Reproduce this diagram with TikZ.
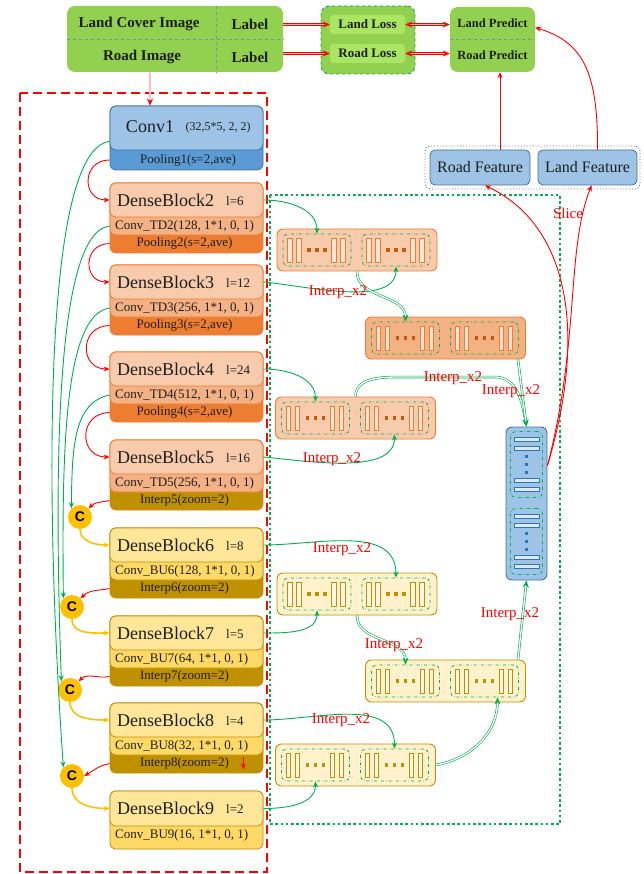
\documentclass[tikz,border=0pt]{standalone}
\usepackage{fontspec}
\setmainfont{Liberation Serif}
\newfontfamily\csans{Liberation Sans}
\usetikzlibrary{arrows.meta, positioning, calc}
\definecolor{txt}{RGB}{30,30,30}
\definecolor{grn}{RGB}{146,208,80}
\definecolor{grnL}{RGB}{170,230,100}
\definecolor{grnE}{RGB}{0,176,80}
\definecolor{sepc}{RGB}{110,150,180}
\definecolor{blL}{RGB}{157,195,230}
\definecolor{blD}{RGB}{91,155,213}
\definecolor{blE}{RGB}{65,113,156}
\definecolor{blW}{RGB}{222,235,247}
\definecolor{blK}{RGB}{46,117,182}
\definecolor{orL}{RGB}{248,203,173}
\definecolor{orM}{RGB}{244,177,131}
\definecolor{orD}{RGB}{237,125,49}
\definecolor{orE}{RGB}{237,125,49}
\definecolor{orW}{RGB}{251,229,214}
\definecolor{orK}{RGB}{197,90,17}
\definecolor{gdL}{RGB}{255,230,153}
\definecolor{gdM}{RGB}{255,217,102}
\definecolor{gdD}{RGB}{191,144,0}
\definecolor{gdE}{RGB}{191,144,0}
\definecolor{gdW}{RGB}{255,242,204}
\definecolor{gdK}{RGB}{191,144,0}
\definecolor{catc}{RGB}{255,192,0}

\newcommand\fsz[1]{\fontsize{#1}{#1}\selectfont}

% encoder block: name, top y, title, l, conv text, bottom text, scheme, bottom colour
\newcommand\encblk[8]{%
  \node[blk, fill=#8, draw=#7E, minimum height=70pt] (#1) at (186.5,#2+35) {};
  \node[blk, fill=#7M, draw=#7E, minimum height=52pt, anchor=north] (#1c) at (#1.north) {};
  \node[blk, fill=#7L, draw=#7E, minimum height=34pt, anchor=north] (#1t) at (#1.north) {};
  \node[ttl, anchor=west] (#1n) at ($(#1.north)+(-69.5,18)$) {#3};
  \node[par, anchor=west] (#1l) at ($(#1.north)+(39.5,18)$) {#4};
  \node[sub, anchor=west] (#1cn) at ($(#1.north)+(-71.5,43.5)$) {#5};
  \node[sub] (#1p) at ($(#1.north)+(-2,61)$) {#6};
}

% decoder block: name, centre, fill, line, bar fill, dot colour
\newcommand\decblk[6]{%
  \node[decbox, fill=#3, draw=#4] (#1) at (#2) {};
  \foreach \k/\dx in {1/-40,2/39}{
    \node[subbox] (#1-\k) at ($(#1)+(\dx,0)$) {};
    \foreach \bx in {-27,-18,17,26}
      \draw[fill=#5, draw=#4, line width=0.7pt] ($(#1-\k)+(\bx-2.2,-12)$) rectangle ++(4.4,24);
    \foreach \bx in {-8,0,8}
      \fill[#6] ($(#1-\k)+(\bx-1.7,-1.7)$) rectangle ++(3.4,3.4);
  }
}

\begin{document}
\begin{tikzpicture}[x=1pt, y=-1pt,
    blk/.style={rectangle, rounded corners=6pt, minimum width=153pt, line width=0.8pt, inner sep=0pt},
    ttl/.style={font=\fsz{18}, text=txt, inner sep=0pt},
    par/.style={font=\fsz{13}, text=txt, inner sep=0pt},
    sub/.style={font=\fsz{13}, text=txt, inner sep=0pt},
    topl/.style={font=\fsz{15}\bfseries, text=txt, inner sep=0pt},
    decbox/.style={rectangle, rounded corners=6pt, minimum width=160pt, minimum height=42pt, line width=0.9pt, inner sep=0pt},
    subbox/.style={rectangle, draw=grnE, dash dot, line width=0.8pt, rounded corners=5pt, minimum width=68pt, minimum height=32pt},
    feat/.style={rectangle, rounded corners=5pt, fill=blL, draw=blE, line width=0.8pt, minimum height=35pt, font=\fsz{16}, text=txt},
    cat/.style={circle, fill=catc, minimum size=24pt, inner sep=0pt, font=\csans\bfseries\fsz{14}},
    lbl/.style={font=\fsz{15}, text=red, inner sep=0pt},
    redarr/.style={-{Stealth[length=6pt,width=5pt]}, red, line width=0.9pt},
    reddbl/.style={-{Stealth[length=7pt,width=6pt]}, draw=red, double=red!25, double distance=1.3pt, line width=0.6pt},
    grarr/.style={-{Stealth[length=6pt,width=5pt]}, draw=grnE, line width=0.9pt},
    grdbl/.style={-{Stealth[length=7pt,width=6pt]}, draw=grnE, double=white, double distance=1.3pt, line width=0.6pt},
    goldarr/.style={-{Stealth[length=6pt,width=5pt]}, draw=catc, line width=1.6pt},
    sepline/.style={draw=sepc, dashed, line width=0.8pt}
  ]
  \useasboundingbox (0,0) rectangle (644,874);

  % frames
  \draw[red, line width=2.4pt, dash pattern=on 9pt off 5pt] (20,93) rectangle (267,872);
  \draw[grnE, line width=2.6pt, dash pattern=on 2.6pt off 2.6pt] (270,195) rectangle (560,824);

  % inputs, losses, predictions
  \node[rectangle, rounded corners=8pt, fill=grn, minimum width=216pt, minimum height=66pt] (inp) at (175,39) {};
  \draw[sepline] (inp.west) -- (inp.east);
  \draw[sepline] ($(inp.north)+(41,0)$) -- ($(inp.south)+(41,0)$);
  \node[topl] (img1) at (139,24) {Land Cover Image};
  \node[topl] (lab1) at (250,24) {Label};
  \node[topl] (img2) at (142,57) {Road Image};
  \node[topl] (lab2) at (250,57) {Label};

  \node[rectangle, rounded corners=8pt, fill=grn, draw=grnE, dashed, line width=0.9pt, minimum width=94pt, minimum height=68pt] (loss) at (368,40) {};
  \node[rectangle, rounded corners=3pt, fill=grnL, minimum width=75pt, minimum height=19pt, font=\fsz{13}\bfseries, text=txt] (lloss) at (367.5,24.5) {Land Loss};
  \node[rectangle, rounded corners=3pt, fill=grnL, minimum width=75pt, minimum height=19pt, font=\fsz{13}\bfseries, text=txt] (rloss) at (367.5,53.5) {Road Loss};

  \node[rectangle, rounded corners=8pt, fill=grn, minimum width=85pt, minimum height=65pt] (pred) at (492.5,39.5) {};
  \draw[sepline] (pred.west) -- (pred.east);
  \node[font=\fsz{12.5}\bfseries, text=txt, inner sep=0pt] (lpred) at (492.5,23) {Land Predict};
  \node[font=\fsz{12.5}\bfseries, text=txt, inner sep=0pt] (rpred) at (492.5,55) {Road Predict};

  \draw[reddbl] (inp.east |- lloss) -- (lloss.west);
  \draw[reddbl] (inp.east |- rloss) -- (rloss.west);
  \draw[reddbl, {Stealth[length=7pt,width=6pt]}-{Stealth[length=7pt,width=6pt]}] (lloss.east) -- (lloss.east -| pred.west);
  \draw[reddbl, {Stealth[length=7pt,width=6pt]}-{Stealth[length=7pt,width=6pt]}] (rloss.east) -- (rloss.east -| pred.west);

  % features
  \node[rectangle, rounded corners=5pt, draw=blE, dotted, line width=0.9pt, minimum width=215pt, minimum height=43pt] (feats) at (532.5,167.5) {};
  \node[feat, minimum width=100pt] (rfeat) at (480,167.5) {Road Feature};
  \node[feat, minimum width=99pt] (lfeat) at (587.5,167.5) {Land Feature};
  \draw[redarr] ($(rfeat.north)+(20,0)$) -- ($(pred.south)+(7.5,0)$);
  \draw[redarr] ($(lfeat.north)+(10,0)$) .. controls (598,70) and (582,42) .. ($(pred.east)+(0,-12)$);

  % encoder
  \node[blk, fill=blD, draw=blE, minimum height=64pt] (c1) at (186.5,138) {};
  \node[blk, fill=blL, draw=blE, minimum height=44pt, anchor=north] (c1t) at (c1.north) {};
  \node[ttl] (c1n) at (150,127) {Conv1};
  \node[font=\fsz{12}, text=txt, inner sep=0pt] (c1l) at (218,128) {(32,5*5, 2, 2)};
  \node[sub] (c1p) at (188,160) {Pooling1(s=2,ave)};
  \draw[reddbl] (inp.south -| c1n) -- (c1n |- c1.north);

  \encblk{db2}{183}{DenseBlock2}{l=6}{Conv\_TD2(128, 1*1, 0, 1)}{Pooling2(s=2,ave)}{or}{orD}
  \encblk{db3}{265}{DenseBlock3}{l=12}{Conv\_TD3(256, 1*1, 0, 1)}{Pooling3(s=2,ave)}{or}{orD}
  \encblk{db4}{352}{DenseBlock4}{l=24}{Conv\_TD4(512, 1*1, 0, 1)}{Pooling4(s=2,ave)}{or}{orD}
  \encblk{db5}{440}{DenseBlock5}{l=16}{Conv\_TD5(256, 1*1, 0, 1)}{Interp5(zoom=2)}{or}{gdD}
  \encblk{db6}{528}{DenseBlock6}{l=8}{Conv\_BU6(128, 1*1, 0, 1)}{Interp6(zoom=2)}{gd}{gdD}
  \encblk{db7}{616}{DenseBlock7}{l=5}{Conv\_BU7(64, 1*1, 0, 1)}{Interp7(zoom=2)}{gd}{gdD}
  \encblk{db8}{703}{DenseBlock8}{l=4}{Conv\_BU8(32, 1*1, 0, 1)}{Interp8(zoom=2)}{gd}{gdD}
  \node[blk, fill=gdM, draw=gdE, minimum height=58pt] (db9) at (186.5,820) {};
  \node[blk, fill=gdL, draw=gdE, minimum height=35pt, anchor=north] (db9t) at (db9.north) {};
  \node[ttl, anchor=west] (db9n) at ($(db9.north)+(-69.5,18)$) {DenseBlock9};
  \node[par, anchor=west] (db9l) at ($(db9.north)+(39.5,18)$) {l=2};
  \node[sub, anchor=west] (db9cn) at ($(db9.north)+(-71.5,45)$) {Conv\_BU9(16, 1*1, 0, 1)};
  \draw[redarr] ($(db8.south east)+(-20,-16)$) -- ++(0,12);

  % concat
  \node[cat] (cc1) at (80,517) {C};
  \node[cat] (cc2) at (72,607) {C};
  \node[cat] (cc3) at (70,690) {C};
  \node[cat] (cc4) at (72,776) {C};

  \draw[redarr] (c1.west |- c1p) to[out=180, in=180, looseness=1.8] (db2t.west);
  \draw[redarr] (db2.west |- db2p) to[out=180, in=180, looseness=1.8] (db3t.west);
  \draw[redarr] (db3.west |- db3p) to[out=180, in=180, looseness=1.8] (db4t.west);
  \draw[redarr] (db4.west |- db4p) to[out=180, in=180, looseness=1.8] (db5t.west);
  \draw[redarr] (db5.west |- db5p) to[out=190, in=45] (cc1.north east);
  \draw[redarr] (db6.west |- db6p) to[out=190, in=45] (cc2.north east);
  \draw[redarr] (db7.west |- db7p) to[out=190, in=45] (cc3.north east);
  \draw[redarr] (db8.west |- db8p) to[out=190, in=30] (cc4.east);

  \draw[goldarr] (cc1.south) to[out=-90, in=180] (db6t.west);
  \draw[goldarr] (cc2.south) to[out=-90, in=180] (db7t.west);
  \draw[goldarr] (cc3.south) to[out=-90, in=180] (db8t.west);
  \draw[goldarr] (cc4.south) to[out=-90, in=180] (db9t.west);

  \draw[grarr] ($(c1t.south west)+(0,-9)$) .. controls (40,150) and (46,520) .. (cc4.north west);
  \draw[grarr] (db2.west |- db2cn) .. controls (55,232) and (54,470) .. (cc3.north west);
  \draw[grarr] (db3.west |- db3cn) .. controls (63,314) and (62,460) .. (cc2.north west);
  \draw[grarr] (db4.west |- db4cn) .. controls (73,402) and (72,450) .. (cc1.north west);

  % decoder
  \decblk{ba}{357,250}{orL}{orE}{orW}{orK}
  \decblk{bb}{445.5,338}{orM}{orE}{orW}{orK}
  \decblk{bc}{355.5,418}{orL}{orE}{orW}{orK}
  \decblk{bd}{357,594}{gdW}{gdE}{gdW!50!white}{gdK}
  \decblk{be}{445.5,681}{gdW}{gdE}{gdW!50!white}{gdK}
  \decblk{bf}{355.5,765}{gdW}{gdE}{gdW!50!white}{gdK}

  \node[rectangle, rounded corners=6pt, fill=blL, draw=blE, line width=0.9pt, minimum width=41pt, minimum height=153pt] (vb) at (526.5,503.5) {};
  \foreach \k/\dy in {1/-39,2/38}{
    \node[subbox, minimum width=32pt, minimum height=66pt] (vb-\k) at ($(vb)+(0,\dy)$) {};
    \foreach \by in {-25,-16,16,25}
      \draw[fill=blW, draw=blK, line width=0.7pt] ($(vb-\k)+(-12.5,\by-2.2)$) rectangle ++(25,4.4);
    \foreach \by in {-8,0,8}
      \fill[blK] ($(vb-\k)+(-1.7,\by-1.7)$) rectangle ++(3.4,3.4);
  }

  \draw[grarr] (db2t.east) to[out=0, in=90] (ba-1.north);
  \draw[grarr] (db3t.east) to[out=-5, in=-90, looseness=0.8] (ba-2.south);
  \draw[grdbl] (ba.south) to[out=-90, in=90] (bb-1.north);
  \draw[grarr] (db4t.east) to[out=0, in=90] (bc-1.north);
  \draw[grarr] (db5t.east) to[out=-5, in=-90, looseness=0.8] (bc-2.south);
  \draw[grdbl] (bc.north) to[out=90, in=180] (400,377) -- (495,377) to[out=0, in=100] (vb.north);
  \draw[grdbl] ($(bb.south east)+(-8,0)$) -- (vb.north);

  \draw[grarr] (db6t.east) to[out=0, in=90] (bd-2.north);
  \draw[grarr] (db7t.east) to[out=0, in=-90] (bd-1.south);
  \draw[grdbl] (bd.south) to[out=-90, in=90] (be-1.north);
  \draw[grarr] (db8t.east) to[out=0, in=90] (bf-2.north);
  \draw[grarr] (db9t.east) to[out=0, in=-90] (bf-1.south);
  \draw[grdbl] (bf.east) to[out=10, in=-90] ($(be-2.south)+(13,0)$);
  \draw[grdbl] ($(be.north east)+(-8,0)$) -- (vb.south);

  \node[lbl] (ix1) at (338,292) {Interp\_x2};
  \node[lbl] (ix2) at (453,378) {Interp\_x2};
  \node[lbl] (ix3) at (511,391) {Interp\_x2};
  \node[lbl] (ix4) at (332,459) {Interp\_x2};
  \node[lbl] (ix5) at (342,549) {Interp\_x2};
  \node[lbl] (ix6) at (394,645) {Interp\_x2};
  \node[lbl] (ix7) at (510,614) {Interp\_x2};
  \node[lbl] (ix8) at (341,720) {Interp\_x2};

  % slice
  \coordinate (sl) at ($(vb.east)+(0,-38)$);
  \draw[redarr] (sl) .. controls (588,330) and (568,225) .. ($(rfeat.south)+(5,0)$);
  \draw[redarr] (sl) .. controls (580,340) and (566,250) .. ($(lfeat.south)+(4,0)$);
  \node[lbl] (slc) at (568,213) {Slice};
\end{tikzpicture}
\end{document}
